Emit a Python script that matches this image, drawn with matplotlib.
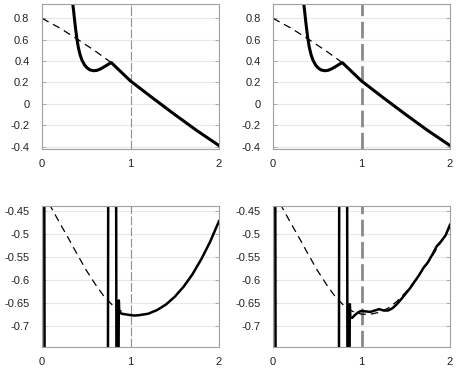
import matplotlib
matplotlib.use('Agg')
import matplotlib.pyplot as plt
import numpy as np

plt.rcParams['font.family'] = ['Liberation Sans', 'DejaVu Sans']

# top row: reference (dashed) and computed (solid) curves
top_ref_x = [0.0, 0.2, 0.4, 0.6, 0.784, 1.0, 1.25, 1.5, 1.75, 2.0]
top_ref_y = [0.80, 0.71, 0.605, 0.495, 0.385, 0.214, 0.055, -0.10, -0.25, -0.39]

top_sol_x = [0.33, 0.345, 0.356, 0.37, 0.38, 0.394, 0.41, 0.43, 0.451, 0.48,
             0.508, 0.54, 0.583, 0.62, 0.659, 0.70, 0.735, 0.76, 0.784,
             1.0, 1.25, 1.5, 1.75, 2.0]
top_sol_y = [1.05, 0.95, 0.878, 0.77, 0.70, 0.61, 0.53, 0.46, 0.41, 0.365,
             0.338, 0.318, 0.31, 0.313, 0.326, 0.345, 0.363, 0.376, 0.385,
             0.214, 0.055, -0.10, -0.25, -0.39]

# bottom row: reference curve (dashed)
bot_ref_x = [0.0, 0.1, 0.2, 0.3, 0.4, 0.5, 0.6, 0.7, 0.8, 0.9, 1.0,
             1.1, 1.2, 1.3, 1.4, 1.5, 1.6, 1.7, 1.8, 1.9, 2.0]
bot_ref_y = [-0.411, -0.441, -0.476, -0.51, -0.545, -0.579, -0.609, -0.636,
             -0.656, -0.669, -0.675, -0.675, -0.671, -0.662, -0.647, -0.627,
             -0.603, -0.577, -0.548, -0.517, -0.485]

# bottom-left: smooth solution with poles near 0.03, 0.75, 0.84
bl_x = [0.0, 0.024, 0.03, 0.744, 0.75, 0.836, 0.842, 0.862, 0.868, 0.872,
        0.9, 1.0, 1.05, 1.1, 1.2, 1.3, 1.4, 1.5, 1.6, 1.7, 1.8, 1.9, 2.0]
bl_y = [-0.2, -0.2, -0.9, -0.9, -0.2, -0.2, -0.9, -0.9, -0.645, -0.670,
        -0.674, -0.677, -0.678, -0.677, -0.674, -0.666, -0.654, -0.637,
        -0.615, -0.588, -0.555, -0.517, -0.472]

# bottom-right: noisy solution
br_x = [0.0, 0.024, 0.03, 0.744, 0.75, 0.836, 0.842, 0.862, 0.868, 0.874,
        0.894, 0.93, 0.97, 1.0, 1.05, 1.1, 1.15, 1.2, 1.25, 1.3, 1.35, 1.4,
        1.45, 1.5, 1.55, 1.6, 1.65, 1.7, 1.75, 1.8, 1.85, 1.9, 1.95, 2.0]
br_y = [-0.2, -0.2, -0.9, -0.9, -0.2, -0.2, -0.9, -0.9, -0.653, -0.683,
        -0.683, -0.676, -0.670, -0.668, -0.669, -0.670, -0.667, -0.664,
        -0.667, -0.667, -0.662, -0.653, -0.642, -0.630, -0.618, -0.604,
        -0.590, -0.574, -0.562, -0.545, -0.527, -0.516, -0.503, -0.480]

top_ticks = [-0.4, -0.2, 0, 0.2, 0.4, 0.6, 0.8]
top_labels = ['-0.4', '-0.2', '0', '0.2', '0.4', '0.6', '0.8']
bot_ticks = [-0.7, -0.65, -0.6, -0.55, -0.5, -0.45]
bot_labels = ['-0.7', '-0.65', '-0.6', '-0.55', '-0.5', '-0.45']


def style_axes(ax, ticks, labels, ylim):
    ax.set_xlim(0, 2)
    ax.set_ylim(*ylim)
    ax.set_xticks([0, 1, 2])
    ax.set_xticklabels(['0', '1', '2'])
    ax.set_yticks(ticks)
    ax.set_yticklabels(labels)
    ax.grid(axis='y', color='#e8e8e8', lw=0.8)
    ax.set_axisbelow(True)
    for s in ax.spines.values():
        s.set_color('#a0a0a0')
        s.set_linewidth(0.8)
    ax.tick_params(direction='in', length=3, width=0.6, color='#a0a0a0',
                   labelsize=8, labelcolor='#222222', top=True, right=True)
    ax.tick_params(axis='y', pad=9)
    ax.tick_params(axis='x', pad=7)


fig = plt.figure(figsize=(4.63, 3.70), dpi=100)
W, H = 463.0, 370.0
cols = [(42, 219), (273, 450)]
rows = [(4, 149.3), (205.7, 347.3)]

for r, (y0, y1) in enumerate(rows):
    for c, (x0, x1) in enumerate(cols):
        ax = fig.add_axes([x0 / W, 1 - y1 / H, (x1 - x0) / W, (y1 - y0) / H])
        if c == 0:
            ax.axvline(1, color='#909090', lw=0.8, ls=(0, (8, 2)))
        else:
            ax.axvline(1, color='#8a8a8a', lw=2.0, ls=(0, (6, 2)))
        if r == 0:
            style_axes(ax, top_ticks, top_labels, (-0.425, 0.934))
            ax.plot(top_ref_x, top_ref_y, color='black', lw=0.9, ls=(0, (6, 4)))
            ax.plot(top_sol_x, top_sol_y, color='black', lw=2.2)
        else:
            style_axes(ax, bot_ticks, bot_labels, (-0.7472, -0.4384))
            if c == 0:
                n = 10
                ax.plot(bot_ref_x[:n], bot_ref_y[:n], color='black', lw=0.9,
                        ls=(0, (6, 4)))
                ax.plot(bl_x, bl_y, color='black', lw=1.8)
            else:
                ax.plot(bot_ref_x, bot_ref_y, color='black', lw=0.9,
                        ls=(0, (6, 4)))
                ax.plot(br_x, br_y, color='black', lw=1.8)

fig.savefig('out.png', dpi=100)
